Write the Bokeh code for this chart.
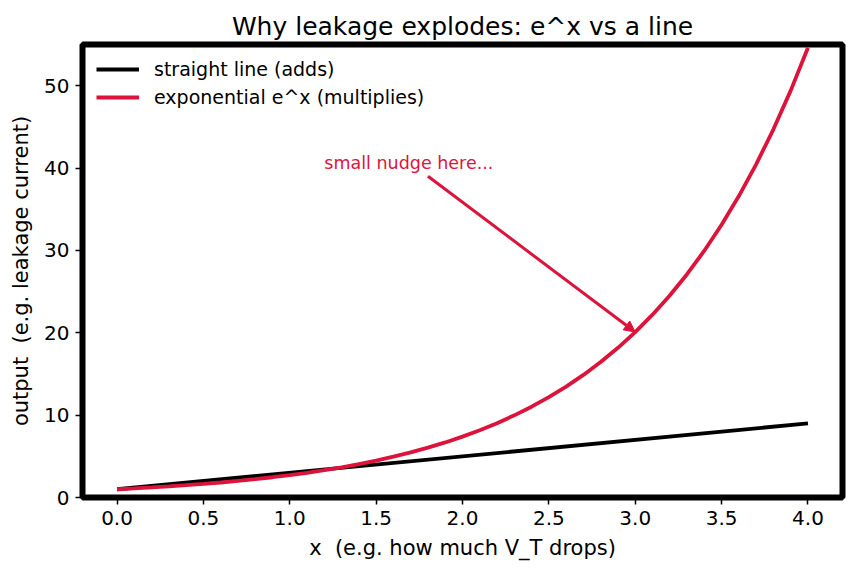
from bokeh.plotting import figure
from bokeh.models import Range1d, Arrow, NormalHead, Label, Legend, LegendItem
from bokeh.embed import file_html
from bokeh.resources import INLINE

# Straight line: adds a constant amount per step
line_x = [0.0, 4.0]
line_y = [1.0, 9.0]

# Exponential e^x sampled every 0.1
exp_x = [0.0, 0.1, 0.2, 0.3, 0.4, 0.5, 0.6, 0.7, 0.8, 0.9,
         1.0, 1.1, 1.2, 1.3, 1.4, 1.5, 1.6, 1.7, 1.8, 1.9,
         2.0, 2.1, 2.2, 2.3, 2.4, 2.5, 2.6, 2.7, 2.8, 2.9,
         3.0, 3.1, 3.2, 3.3, 3.4, 3.5, 3.6, 3.7, 3.8, 3.9, 4.0]
exp_y = [1.000, 1.105, 1.221, 1.350, 1.492, 1.649, 1.822, 2.014, 2.226, 2.460,
         2.718, 3.004, 3.320, 3.669, 4.055, 4.482, 4.953, 5.474, 6.050, 6.686,
         7.389, 8.166, 9.025, 9.974, 11.023, 12.182, 13.464, 14.880, 16.445, 18.174,
         20.086, 22.198, 24.533, 27.113, 29.964, 33.115, 36.598, 40.447, 44.701, 49.402,
         54.598]

x_ticks = [0.0, 0.5, 1.0, 1.5, 2.0, 2.5, 3.0, 3.5, 4.0]
y_ticks = [0, 10, 20, 30, 40, 50]

# Annotation: text position and the point the arrow marks
note_text = "small nudge here..."
note_xy = (1.2, 40.0)
arrow_start = (1.8, 39.0)
arrow_end = (3.0, 20.086)

CRIMSON = "#DC143C"
FONT = "DejaVu Sans"
NBSP = "\u00a0"

p = figure(width=856, height=574, output_backend="svg", toolbar_location=None,
           x_range=Range1d(-0.2, 4.2), y_range=Range1d(0, 55),
           min_border_left=82, min_border_right=14, min_border_top=44, min_border_bottom=77)

p.title.text = "Why leakage explodes: e^x vs a line"
p.title.align = "center"
p.title.text_font = FONT
p.title.text_font_size = "25px"
p.title.text_font_style = "normal"
p.title.text_color = "black"
p.title.standoff = 7

p.outline_line_color = "black"
p.outline_line_width = 6
p.outline_line_alpha = 1.0
p.xgrid.visible = False
p.ygrid.visible = False

for ax in (p.xaxis, p.yaxis):
    ax.axis_line_color = None
    ax.major_tick_line_color = "black"
    ax.major_tick_line_width = 1.5
    ax.major_tick_out = 7
    ax.major_tick_in = 0
    ax.minor_tick_line_color = None
    ax.major_label_text_font = FONT
    ax.major_label_text_font_size = "20px"
    ax.major_label_text_color = "black"
    ax.axis_label_text_font = FONT
    ax.axis_label_text_font_size = "21px"
    ax.axis_label_text_font_style = "normal"
    ax.axis_label_text_color = "black"

p.xaxis.ticker = x_ticks
p.yaxis.ticker = y_ticks
p.xaxis.major_label_overrides = {t: f"{t:.1f}" for t in x_ticks}
p.xaxis.axis_label = "x " + NBSP + "(e.g. how much V_T drops)"
p.yaxis.axis_label = "output " + NBSP + "(e.g. leakage current)"
p.xaxis.major_label_standoff = 6
p.yaxis.major_label_standoff = 6
p.xaxis.axis_label_standoff = 8
p.yaxis.axis_label_standoff = 8

r_line = p.line(line_x, line_y, line_color="black", line_width=3.8)
r_exp = p.line(exp_x, exp_y, line_color=CRIMSON, line_width=3.8)

legend = Legend(items=[LegendItem(label="straight line (adds)", renderers=[r_line]),
                       LegendItem(label="exponential e^x (multiplies)", renderers=[r_exp])],
                location="top_left")
legend.border_line_color = None
legend.background_fill_alpha = 0
legend.label_text_font = FONT
legend.label_text_font_size = "19px"
legend.label_text_color = "black"
legend.glyph_width = 43
legend.label_standoff = 15
legend.spacing = 6
legend.margin = 14
legend.padding = 9
p.add_layout(legend)

p.add_layout(Label(x=note_xy[0], y=note_xy[1], y_offset=5, text=note_text, text_color=CRIMSON,
                   text_font=FONT, text_font_size="17.5px", text_baseline="alphabetic"))
p.add_layout(Arrow(x_start=arrow_start[0], y_start=arrow_start[1],
                   x_end=arrow_end[0], y_end=arrow_end[1],
                   line_color=CRIMSON, line_width=3,
                   end=NormalHead(size=11, fill_color=CRIMSON, line_color=CRIMSON)))

open("out.html", "w").write(file_html(p, INLINE))
